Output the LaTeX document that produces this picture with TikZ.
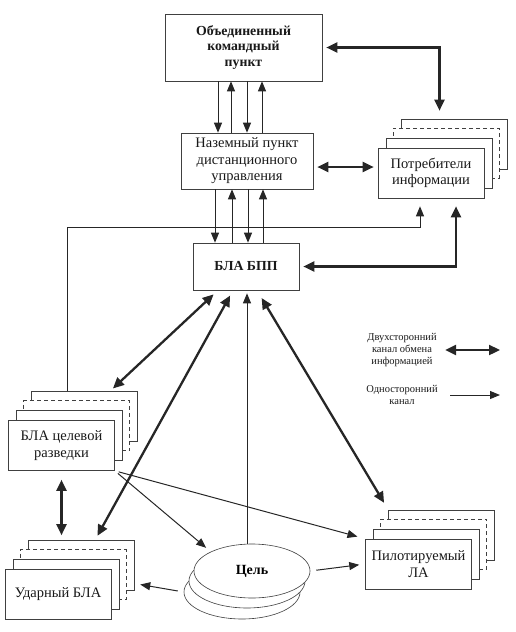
\documentclass[tikz,border=0pt]{standalone}
\usepackage{fontspec}
\setmainfont{Liberation Serif}
\usepackage{tikz}
\usetikzlibrary{arrows.meta,shapes,positioning,calc}
\pgfdeclarelayer{bg}
\pgfsetlayers{bg,main}

\begin{document}
\begin{tikzpicture}[x=1pt,y=-1pt,
	box/.style={rectangle,draw=black!75,fill=white,line width=.6pt,inner sep=0pt,align=center,
		text=black!90,font=\fontsize{14.5}{16.5}\selectfont},
	card/.style={box,minimum width=106pt,minimum height=50pt},
	lead/.style={ellipse,draw=black!75,fill=white,line width=.6pt,inner sep=0pt,
		minimum width=116pt,minimum height=54pt},
	both/.style={<->,>={Triangle[length=11pt,width=10pt]},line width=2.3pt,black!85},
	one/.style={->,>={Triangle[length=10pt,width=8pt]},line width=1pt,black!85},
	note/.style={align=center,text=black!90,font=\fontsize{10.5}{11.7}\selectfont}]

    \useasboundingbox (0,0) rectangle (515,632);

    \node[box,minimum width=157pt,minimum height=67pt,font=\bfseries\fontsize{13.8}{15.5}\selectfont] (okp) at (243.5,47.5) {Объединенный\\командный\\пункт};
    \node[box,minimum width=132pt,minimum height=56pt] (npu) at (247,161) {Наземный пункт\\дистанционного\\управления};
    \node[box,minimum width=106pt,minimum height=47pt,font=\bfseries\fontsize{13.8}{16}\selectfont] (bpp) at (246,266.5) {БЛА БПП};
    \node[card] (potr) at (431,173) {Потребители\\информации};
    \node[card] (razv) at (61.5,445.5) {БЛА целевой\\разведки};
    \node[card] (udar) at (58,594.5) {Ударный БЛА};
    \node[card] (pil) at (418.5,564) {Пилотируемый\\ЛА};
    \node[lead,font=\bfseries\fontsize{14}{16}\selectfont] (cel) at (252,571) {Цель};

    \node[note] (two) at (402,350) {Двухсторонний\\канал обмена\\информацией};
    \node[note] (uni) at (402,395) {Односторонний\\канал};
    \coordinate (twoend) at (500,350);
    \coordinate (uniend) at (500,395);

	\begin{pgfonlayer}{bg}
	\foreach \s in {potr,razv,udar,pil} {
		\node[card] (\s3) at ([shift={(23pt,29pt)}]\s.center) {};
		\node[card,dash pattern=on 4pt off 3pt] (\s2) at ([shift={(15pt,20pt)}]\s.center) {};
		\node[card] (\s1) at ([shift={(8pt,10pt)}]\s.center) {};
	}
	\node[lead] (cel2) at ([shift={(-10pt,-21pt)}]cel.center) {};
	\node[lead] (cel1) at ([shift={(-5pt,-10pt)}]cel.center) {};
	\end{pgfonlayer}

	\draw[both,shorten <=4pt,shorten >=8pt] (okp.east) -| ([xshift=-14.5pt]potr3.north);
	\foreach \dx/\tip in {-25.5/->,-12.5/<-,3.5/->,18.5/<-}
		\draw[one,\tip] ([xshift=\dx pt]okp.south) -- ([xshift=\dx pt]okp.south |- npu.north);
	\draw[both,shorten <=4pt,shorten >=4pt] ([yshift=-6pt]npu.east) -- ([yshift=-6pt]npu.east -| potr.west);
	\foreach \dx/\tip in {-32/->,-15/<-,1/->,16/<-}
		\draw[one,\tip] ([xshift=\dx pt]npu.south) -- ([xshift=\dx pt]npu.south |- bpp.north);
	\draw[one,shorten >=8pt] ([xshift=-17.5pt]razv3.north) |- ([xshift=-11pt,yshift=-29pt]potr.south) -- ([xshift=-11pt]potr.south);
	\draw[both,shorten <=4pt,shorten >=8pt] (bpp.east) -| ([xshift=25pt]potr.south);

	\draw[both,shorten <=4pt,shorten >=6pt] ([xshift=25.5pt]razv3.north) -- ([xshift=-28pt]bpp.south);
	\draw[both,shorten <=5pt,shorten >=6pt] ([xshift=14pt]udar3.north) -- ([xshift=-13pt]bpp.south);
	\draw[one,shorten >=3pt] ([xshift=-5pt]cel.north) -- ([xshift=-5pt]cel.north |- bpp.south);
	\draw[both,shorten <=8pt,shorten >=9pt] (pil3.north west) -- ([xshift=11pt]bpp.south);

	\draw[one,shorten <=4pt,shorten >=6pt] (razv.south east) -- (cel.north west);
	\draw[one,shorten <=4pt,shorten >=8pt] (razv.south east) -- (pil.north west);
	\draw[one,shorten <=6pt,shorten >=6pt] (cel2.west) -- ([yshift=-18pt]udar3.east);
	\draw[one,shorten <=6pt,shorten >=6pt] (cel.east) -- (pil.west);
	\draw[both,shorten <=9pt,shorten >=5pt] (razv.south) -- (razv.south |- udar3.north);

	\draw[both] ([xshift=5pt]two.east) -- (twoend);
	\draw[one] ([xshift=9pt]uni.east) -- (uniend);

	\end{tikzpicture}
\end{document}
